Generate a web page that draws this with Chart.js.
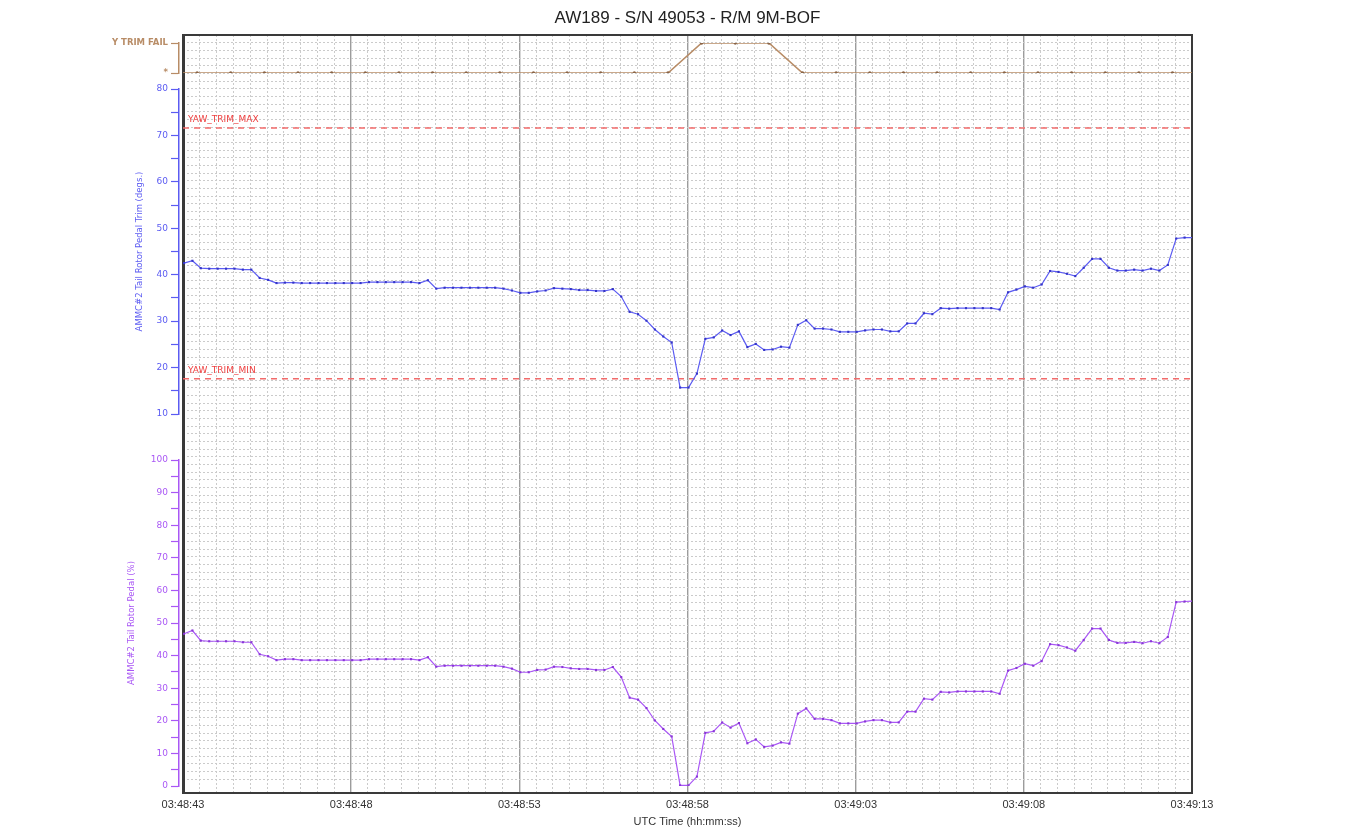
<!DOCTYPE html>
<html>
<head>
<meta charset="utf-8">
<title>AW189 - S/N 49053 - R/M 9M-BOF</title>
<script src="https://cdn.jsdelivr.net/npm/chart.js@4.4.1/dist/chart.umd.min.js"></script>
<style>
  html, body { margin: 0; padding: 0; background: #fff; }
  #wrap { width: 1357px; height: 832px; }
</style>
</head>
<body>
<div id="wrap"><canvas id="trimChart" width="1357" height="832"></canvas></div>
<script>
// time axis is seconds after 03:48:43 UTC
const timeLabels = ['03:48:43', '03:48:48', '03:48:53', '03:48:58', '03:49:03', '03:49:08', '03:49:13'];
const sampleStart = 0.03;   // s
const samplePeriod = 0.25;  // 4 Hz recording

// AMMC#2 tail rotor pedal trim (degs.)
const trimValues = [
  42.5, 43.0, 41.4, 41.3, 41.3, 41.3, 41.3, 41.1, 41.1, 39.3,
  38.9, 38.2, 38.3, 38.3, 38.2, 38.2, 38.2, 38.2, 38.2, 38.2,
  38.2, 38.2, 38.4, 38.4, 38.4, 38.4, 38.4, 38.4, 38.2, 38.8,
  37.0, 37.2, 37.2, 37.2, 37.2, 37.2, 37.2, 37.2, 37.0, 36.6,
  36.1, 36.1, 36.4, 36.6, 37.1, 37.0, 36.9, 36.7, 36.7, 36.5,
  36.5, 36.9, 35.3, 32.0, 31.5, 30.1, 28.2, 26.7, 25.4, 15.7,
  15.7, 18.7, 26.2, 26.5, 28.0, 27.0, 27.8, 24.4, 25.1, 23.8,
  23.9, 24.5, 24.3, 29.2, 30.2, 28.4, 28.4, 28.2, 27.7, 27.7,
  27.7, 28.0, 28.2, 28.2, 27.8, 27.8, 29.5, 29.5, 31.7, 31.5,
  32.8, 32.7, 32.8, 32.8, 32.8, 32.8, 32.8, 32.5, 36.2, 36.8,
  37.5, 37.2, 37.9, 40.8, 40.6, 40.2, 39.7, 41.5, 43.4, 43.4,
  41.5, 40.9, 40.9, 41.1, 40.9, 41.3, 40.9, 42.1, 47.8, 48.0,
  48.0
];

// AMMC#2 tail rotor pedal (%)
const pedalValues = [
  46.7, 47.7, 44.6, 44.4, 44.4, 44.4, 44.4, 44.1, 44.1, 40.4,
  39.8, 38.6, 38.9, 38.9, 38.6, 38.6, 38.6, 38.6, 38.6, 38.6,
  38.6, 38.6, 38.9, 38.9, 38.9, 38.9, 38.9, 38.9, 38.6, 39.5,
  36.6, 36.9, 36.9, 36.9, 36.9, 36.9, 36.9, 36.9, 36.6, 36.0,
  34.9, 34.9, 35.6, 35.7, 36.6, 36.5, 36.1, 35.9, 35.9, 35.6,
  35.6, 36.5, 33.4, 27.1, 26.5, 23.9, 20.1, 17.5, 15.2, 0.2,
  0.2, 2.9, 16.3, 16.8, 19.5, 17.9, 19.3, 13.1, 14.3, 12.0,
  12.4, 13.4, 13.0, 22.2, 23.8, 20.6, 20.6, 20.2, 19.2, 19.2,
  19.2, 19.8, 20.2, 20.2, 19.5, 19.5, 22.8, 22.8, 26.8, 26.5,
  28.9, 28.7, 29.0, 29.0, 29.0, 29.0, 29.0, 28.3, 35.4, 36.2,
  37.5, 36.9, 38.3, 43.5, 43.2, 42.5, 41.5, 44.8, 48.3, 48.3,
  44.8, 43.9, 43.9, 44.2, 43.8, 44.4, 43.8, 45.7, 56.4, 56.6,
  56.7
];

// Y TRIM FAIL discrete, 1 Hz (first and last entries are the trace ends, no marker)
const failTimes = [
  0, 0.42, 1.42, 2.42, 3.42, 4.42, 5.42, 6.42, 7.42, 8.42, 9.42,
  10.42, 11.42, 12.42, 13.42, 14.42, 15.42, 16.42, 17.42, 18.42, 19.42,
  20.42, 21.42, 22.42, 23.42, 24.42, 25.42, 26.42, 27.42, 28.42, 29.42, 30
];
const failValues = [
  0, 0, 0, 0, 0, 0, 0, 0, 0, 0, 0,
  0, 0, 0, 0, 0, 1, 1, 1, 0, 0,
  0, 0, 0, 0, 0, 0, 0, 0, 0, 0, 0
];

const limitNames = ['YAW_TRIM_MAX', 'YAW_TRIM_MIN'];
const limitValues = [71.6, 17.6];

const BLUE = '#5b5bf2';
const PURPLE = '#a957f5';
const BROWN = '#b88c66';
const FRAME = '#3a3a3a';
const GRID = '#cbcbcb';
const smallFont = '"DejaVu Sans", Verdana, sans-serif';
const AXIS_W = 110;

const toXY = vals => vals.map((v, i) => ({ x: sampleStart + i * samplePeriod, y: v }));
const stackFit = s => { s.width = AXIS_W; };

function spacer(weight, stackWeight) {
  return {
    type: 'linear', position: 'left', stack: 'left', stackWeight, weight,
    display: true, afterFit: stackFit,
    ticks: { display: false },
    grid: { display: false, drawTicks: false },
    border: { display: false }
  };
}

function valueAxis(o) {
  return {
    type: 'linear', position: 'left', stack: 'left',
    stackWeight: o.stackWeight, weight: o.weight,
    min: o.min, max: o.max, afterFit: stackFit,
    ticks: {
      stepSize: o.step, color: o.color, padding: 3, autoSkip: false,
      font: { family: smallFont, size: o.fontSize || 9, weight: o.fontWeight || 'normal' },
      callback: o.label
    },
    grid: { display: true, drawOnChartArea: false, drawTicks: true, tickLength: 8, tickColor: o.color, tickWidth: 1.2 },
    border: { display: true, color: o.color, width: 1.5 },
    title: o.title ? {
      display: true, text: o.title, color: o.color,
      font: { family: smallFont, size: 8.5 },
      padding: { top: o.titlePad, bottom: 0 }
    } : { display: false }
  };
}

const limitLabels = {
  id: 'limitLabels',
  afterDatasetsDraw(chart) {
    const { ctx, scales: { x, yTrim } } = chart;
    ctx.save();
    ctx.font = '9px ' + smallFont;
    ctx.fillStyle = '#ee4040';
    ctx.textBaseline = 'middle';
    limitNames.forEach((name, i) => {
      ctx.fillText(name, x.getPixelForValue(0) + 5, yTrim.getPixelForValue(limitValues[i]) - 8.5);
    });
    ctx.restore();
  }
};

const datasets = [
  {
    label: 'Y TRIM FAIL',
    data: failTimes.map((t, i) => ({ x: t, y: failValues[i] })),
    yAxisID: 'yFail',
    borderColor: BROWN, borderWidth: 1.6,
    pointRadius: c => (c.dataIndex === 0 || c.dataIndex === failTimes.length - 1) ? 0 : 1.7,
    pointBackgroundColor: '#8a6446', pointBorderWidth: 0
  },
  {
    label: 'AMMC#2 Tail Rotor Pedal Trim',
    data: toXY(trimValues),
    yAxisID: 'yTrim',
    borderColor: BLUE, borderWidth: 1.2,
    pointRadius: 1.5, pointStyle: 'rect',
    pointBackgroundColor: '#3434c8', pointBorderWidth: 0
  },
  {
    label: 'AMMC#2 Tail Rotor Pedal',
    data: toXY(pedalValues),
    yAxisID: 'yPedal',
    borderColor: PURPLE, borderWidth: 1.2,
    pointRadius: 1.5, pointStyle: 'rect',
    pointBackgroundColor: '#8a36d8', pointBorderWidth: 0
  }
];

limitValues.forEach((v, i) => {
  datasets.push({
    label: limitNames[i],
    data: [{ x: 0, y: v }, { x: 30, y: v }],
    yAxisID: 'yTrim',
    borderColor: '#f26b6b', borderWidth: 1.5, borderDash: [6, 5],
    pointRadius: 0
  });
});

new Chart(document.getElementById('trimChart'), {
  type: 'line',
  data: { datasets },
  options: {
    responsive: false,
    devicePixelRatio: 1,
    animation: false,
    layout: { padding: { left: 69, right: 165, top: 0, bottom: 0 } },
    datasets: { line: { xAxisID: 'x', tension: 0, fill: false } },
    plugins: {
      legend: { display: false },
      tooltip: { enabled: false },
      title: {
        display: true, fullSize: false,
        text: 'AW189 - S/N 49053 - R/M 9M-BOF',
        color: '#222',
        font: { family: '"Liberation Sans", Arial, sans-serif', size: 17, weight: 'normal' },
        padding: { top: 8, bottom: 6.6 }
      }
    },
    scales: {
      x: {
        type: 'linear', position: 'bottom', min: 0, max: 30,
        afterFit: s => { s.height = 39; },
        ticks: {
          stepSize: 0.5, autoSkip: false, maxRotation: 0, minRotation: 0, padding: 6,
          color: '#333',
          font: { family: '"Liberation Sans", Arial, sans-serif', size: 11, lineHeight: 1 },
          callback: v => (v % 5 === 0 ? timeLabels[v / 5] : '')
        },
        grid: {
          drawTicks: false,
          color: c => (c.tick && c.tick.value % 5 === 0) ? '#9c9c9c' : GRID,
          lineWidth: c => (c.tick && c.tick.value % 5 === 0) ? 1.4 : 1
        },
        border: {
          display: true, color: FRAME, width: 2,
          dash: c => (c.tick && c.tick.value % 5 === 0) ? [] : [2, 2]
        },
        title: {
          display: true, text: 'UTC Time (hh:mm:ss)', color: '#333',
          font: { family: '"Liberation Sans", Arial, sans-serif', size: 11, lineHeight: 1 },
          padding: { top: 0.5, bottom: 4.5 }
        }
      },
      xTop: {
        type: 'linear', position: 'top', min: 0, max: 30, display: true,
        afterFit: s => { s.height = 0; },
        ticks: { display: false },
        grid: { display: true, drawOnChartArea: false, drawTicks: false },
        border: { display: true, color: FRAME, width: 2 }
      },
      yGrid: {
        type: 'linear', position: 'right', min: 0, max: 98.8, reverse: true, display: true,
        afterFit: s => { s.width = 0; },
        ticks: { display: false, stepSize: 1, maxTicksLimit: 1000 },
        grid: { display: true, drawTicks: false, color: GRID, lineWidth: 1 },
        border: { display: true, color: FRAME, width: 2, dash: [2, 2] }
      },
      yEdge: {
        type: 'linear', position: 'left', weight: 0, display: true,
        afterFit: s => { s.width = 4; },
        ticks: { display: false },
        grid: { display: true, drawOnChartArea: false, drawTicks: false },
        border: { display: true, color: FRAME, width: 3 }
      },
      spTop: spacer(16, 8),
      yFail: valueAxis({
        stackWeight: 30, weight: 15, min: 0, max: 1, step: 1, color: BROWN,
        fontSize: 8.5, fontWeight: 'bold',
        label: v => (v === 1 ? 'Y TRIM FAIL' : (v === 0 ? '*' : ''))
      }),
      sp1: spacer(14, 16),
      yTrim: valueAxis({
        stackWeight: 325, weight: 13, min: 10, max: 80, step: 5, color: BLUE,
        label: v => (v % 10 === 0 ? v : ''),
        title: 'AMMC#2 Tail Rotor Pedal Trim (degs.)', titlePad: 66
      }),
      sp2: spacer(12, 46),
      yPedal: valueAxis({
        stackWeight: 326, weight: 11, min: 0, max: 100, step: 5, color: PURPLE,
        label: v => (v % 10 === 0 ? v : ''),
        title: 'AMMC#2 Tail Rotor Pedal (%)', titlePad: 58
      }),
      spBottom: spacer(10, 7)
    }
  },
  plugins: [limitLabels]
});
</script>
</body>
</html>
